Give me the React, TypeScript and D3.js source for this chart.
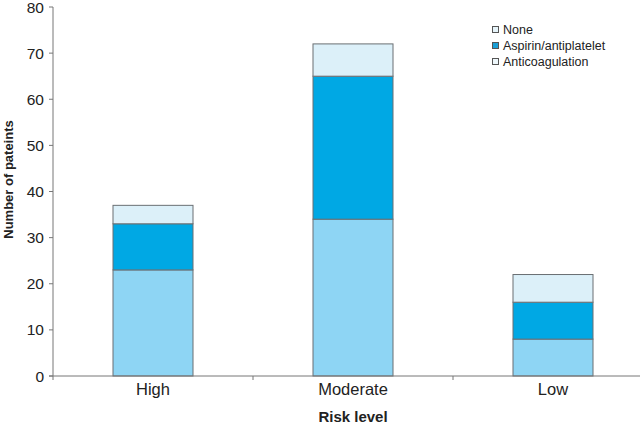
import React from "react";
import * as d3 from "d3";

const categories = ["High", "Moderate", "Low"];
const seriesNames = ["Anticoagulation", "Aspirin/antiplatelet", "None"];
const anticoagulation = [23, 34, 8];
const aspirin = [10, 31, 8];
const none = [4, 7, 6];
const yTicks = [0, 10, 20, 30, 40, 50, 60, 70, 80];
const legendNames = ["None", "Aspirin/antiplatelet", "Anticoagulation"];

const colors: Record<string, string> = {
  "Anticoagulation": "#8ed5f4",
  "Aspirin/antiplatelet": "#00a8e4",
  "None": "#dcf0f9",
};
const legendColors: Record<string, string> = {
  "None": "#e6f4fa",
  "Aspirin/antiplatelet": "#1a9fd6",
  "Anticoagulation": "#eef7fb",
};

export default function App() {
  const W = 640, H = 426;
  const x0 = 53, yBottom = 376, yTop = 7;
  const band = 200;
  const x = d3.scaleBand<string>().domain(categories).range([x0, x0 + band * 3]).paddingInner(0.6).paddingOuter(0.3);
  const y = d3.scaleLinear().domain([0, 80]).range([yBottom, yTop]);
  const rows = categories.map((c, i) => ({ cat: c, Anticoagulation: anticoagulation[i], "Aspirin/antiplatelet": aspirin[i], None: none[i] }));
  const stacked = d3.stack<any>().keys(seriesNames)(rows);
  const font = "'Liberation Sans', Arial, sans-serif";
  const text = "#222";
  const xTickPos = [0, 1, 2, 3].map((i) => x0 + i * band);

  return (
    <svg width={W} height={H} style={{ position: "absolute", left: 0, top: 0, background: "#fff" }} fontFamily={font}>
      {stacked.map((s) => (
        <g key={s.key}>
          {s.map((d, i) => (
            <rect key={i} x={x(categories[i])!} width={x.bandwidth()} y={y(d[1])} height={y(d[0]) - y(d[1])}
              fill={colors[s.key]} stroke="#6a6f73" strokeWidth={1} />
          ))}
        </g>
      ))}
      {/* y axis */}
      <line x1={x0} x2={x0} y1={yTop} y2={yBottom} stroke="#777" strokeWidth={1} />
      {yTicks.map((t) => (
        <g key={t}>
          <line x1={x0 - 4} x2={x0} y1={y(t)} y2={y(t)} stroke="#777" />
          <text x={x0 - 9} y={y(t)} dy="0.36em" textAnchor="end" fontSize={15.5} fill={text}>{t}</text>
        </g>
      ))}
      {/* x axis */}
      <line x1={x0 - 4} x2={W} y1={yBottom} y2={yBottom} stroke="#777" strokeWidth={1} />
      {xTickPos.map((p, i) => (
        <line key={i} x1={p} x2={p} y1={yBottom} y2={yBottom + 4} stroke="#777" />
      ))}
      {categories.map((c) => (
        <text key={c} x={x(c)! + x.bandwidth() / 2} y={395} textAnchor="middle" fontSize={16.5} fill={text}>{c}</text>
      ))}
      <text x={x0 + band * 1.5} y={422} textAnchor="middle" fontSize={15} fontWeight="bold" fill={text}>Risk level</text>
      <text transform={`translate(13,${y(40) - 12}) rotate(-90)`} textAnchor="middle" fontSize={13} fontWeight="bold" fill={text}>Number of pateints</text>
      {/* legend */}
      {legendNames.map((n, i) => (
        <g key={n} transform={`translate(492,${30 + i * 16})`}>
          <rect x={0.5} y={-3.5} width={6} height={6} fill={legendColors[n]} stroke="#555" strokeWidth={1} />
          <text x={11} y={0} dy="0.35em" fontSize={12.5} fill={text}>{n}</text>
        </g>
      ))}
    </svg>
  );
}
